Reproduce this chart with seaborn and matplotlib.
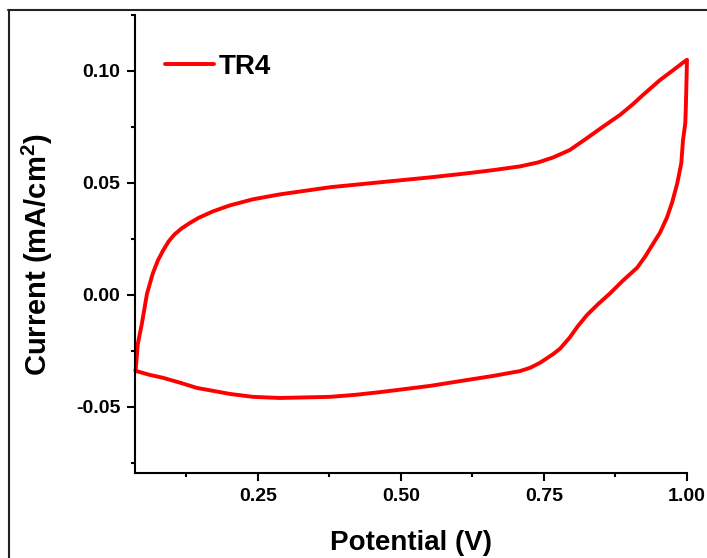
import numpy as np
import pandas as pd
import seaborn as sns
import matplotlib
matplotlib.use("Agg")
import matplotlib.pyplot as plt
from matplotlib.lines import Line2D
from matplotlib.ticker import FixedLocator

# Cyclic voltammogram of TR4: anodic sweep (low -> high potential)
forward_potential = [0.036, 0.040, 0.047, 0.056, 0.066, 0.075, 0.084, 0.094, 0.104,
                     0.116, 0.130, 0.146, 0.171, 0.201, 0.241, 0.288, 0.376, 0.463, 0.551,
                     0.615, 0.660, 0.708, 0.740, 0.766, 0.795, 0.825, 0.853, 0.883, 0.906, 0.923,
                     0.953, 0.976, 0.997, 1.000]
forward_current = [-0.0339, -0.0218, -0.0128, 0.0006, 0.0095, 0.0154, 0.0198, 0.0240, 0.0270,
                   0.0296, 0.0320, 0.0344, 0.0373, 0.0400, 0.0427, 0.0449, 0.0481, 0.0503, 0.0525,
                   0.0543, 0.0557, 0.0574, 0.0592, 0.0614, 0.0647, 0.0700, 0.0751, 0.0804, 0.0853, 0.0893,
                   0.0960, 0.1004, 0.1045, 0.1050]

# Cathodic sweep (high -> low potential)
reverse_potential = [0.999, 0.998, 0.997, 0.993, 0.990, 0.983, 0.974, 0.965, 0.953,
                     0.941, 0.927, 0.913, 0.888, 0.865, 0.845, 0.825, 0.809, 0.795,
                     0.778, 0.766, 0.743, 0.726, 0.708, 0.660, 0.615, 0.551, 0.498, 0.463,
                     0.420, 0.376, 0.288, 0.241, 0.201, 0.171, 0.143, 0.114, 0.084, 0.061, 0.036]
reverse_current = [0.0947, 0.0840, 0.0767, 0.0691, 0.0588, 0.0499, 0.0413, 0.0346, 0.0279,
                   0.0230, 0.0172, 0.0122, 0.0064, 0.0006, -0.0040, -0.0090, -0.0140, -0.0190,
                   -0.0240, -0.0264, -0.0303, -0.0325, -0.0340, -0.0362, -0.0380, -0.0406, -0.0423, -0.0434,
                   -0.0446, -0.0455, -0.0460, -0.0455, -0.0442, -0.0428, -0.0415, -0.0392, -0.0370, -0.0357, -0.0339]

x_major = [0.25, 0.50, 0.75, 1.00]
x_minor = [0.125, 0.375, 0.625, 0.875]
y_major = [-0.05, 0.00, 0.05, 0.10]
y_minor = [-0.075, -0.025, 0.025, 0.075, 0.125]
x_tick_labels = ["0.25", "0.50", "0.75", "1.00"]
y_tick_labels = ["-0.05", "0.00", "0.05", "0.10"]

series_name = "TR4"
x_title = "Potential (V)"
y_title = r"Current (mA/cm$^\mathbf{2}$)"

sns.set_style("ticks")
plt.rcParams["font.family"] = ["Liberation Sans", "DejaVu Sans"]
plt.rcParams["font.weight"] = "bold"
plt.rcParams["text.color"] = "black"
plt.rcParams["axes.labelcolor"] = "black"
plt.rcParams["xtick.color"] = "black"
plt.rcParams["ytick.color"] = "black"
plt.rcParams["axes.unicode_minus"] = False
plt.rcParams["mathtext.fontset"] = "custom"
plt.rcParams["mathtext.rm"] = "Liberation Sans:bold"
plt.rcParams["mathtext.bf"] = "Liberation Sans:bold"

df = pd.DataFrame({
    "Potential": forward_potential + reverse_potential,
    "Current": forward_current + reverse_current,
    "Sample": series_name,
})

W, H = 707, 558
fig = plt.figure(figsize=(W / 100, H / 100), dpi=100)
ax = fig.add_axes([135 / W, 1 - 473 / H, 552 / W, 458 / H])

sns.lineplot(data=df, x="Potential", y="Current", hue="Sample", sort=False,
             estimator=None, palette=["#ff0000"], linewidth=2.8, ax=ax)
for ln in ax.lines:
    ln.set_clip_on(False)
    ln.set_solid_joinstyle("round")

ax.set_xlim(0.035, 1.0)
ax.set_ylim(-0.0795, 0.125)

ax.xaxis.set_major_locator(FixedLocator(x_major))
ax.xaxis.set_minor_locator(FixedLocator(x_minor))
ax.yaxis.set_major_locator(FixedLocator(y_major))
ax.yaxis.set_minor_locator(FixedLocator(y_minor))
ax.set_xticklabels(x_tick_labels, fontsize=14, fontweight="bold", color="black")
ax.set_yticklabels(y_tick_labels, fontsize=14, fontweight="bold", color="black")
ax.tick_params(which="major", direction="out", length=5.5, width=1.5, color="black", pad=5)
ax.tick_params(which="minor", direction="out", length=3, width=1.5, color="black")

for side in ("top", "right"):
    ax.spines[side].set_visible(False)
for side in ("left", "bottom"):
    ax.spines[side].set_linewidth(1.5)
    ax.spines[side].set_color("black")

ax.set_xlabel(x_title, fontsize=20, fontweight="bold", color="black")
ax.set_ylabel(y_title, fontsize=21, fontweight="bold", color="black")
ax.xaxis.set_label_coords(0.5, (473 - 530) / 458)
ax.yaxis.set_label_coords((55 - 135) / 552, (473 - 255) / 458)

leg = ax.legend(loc="center left", bbox_to_anchor=(165 / W, 1 - 67 / H),
                bbox_transform=fig.transFigure, frameon=False, borderpad=0,
                borderaxespad=0, handlelength=1.75, handletextpad=0.2,
                prop={"size": 20, "weight": "bold"})
for h in leg.get_lines():
    h.set_linewidth(2.8)
for t in leg.get_texts():
    t.set_color("black")

# outer border lines along the top and left of the figure
fig.add_artist(Line2D([8 / W, 1.0], [1 - 10 / H, 1 - 10 / H], transform=fig.transFigure,
                      color="#222222", linewidth=1.5))
fig.add_artist(Line2D([9 / W, 9 / W], [1 - 10 / H, 0.0], transform=fig.transFigure,
                      color="#222222", linewidth=1.5))

fig.savefig("out.png", dpi=100, facecolor="white")
